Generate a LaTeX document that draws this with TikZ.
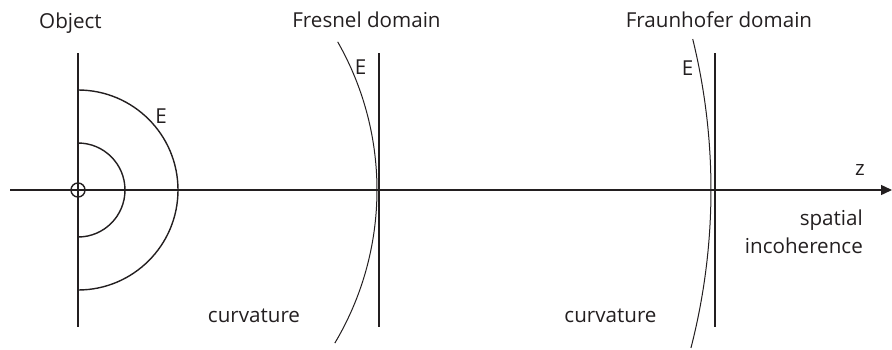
\documentclass[tikz,border=0pt]{standalone}
\usepackage{fontspec}
\setmainfont{Open Sans}
\usetikzlibrary{arrows.meta}
\definecolor{ink}{HTML}{231F20}
\begin{document}
\begin{tikzpicture}[x=1pt,y=-1pt,
  lbl/.style={inner sep=0pt, anchor=base, text=ink, font=\fontsize{20.6}{25}\selectfont},
  lblr/.style={lbl, anchor=base east},
  main/.style={draw=ink, line width=1.4pt},
  wave/.style={draw=ink, line width=1pt}]
\useasboundingbox (0,0) rectangle (892,349);
% coordinates
\coordinate (axL) at (10,190);
\coordinate (axR) at (892,190);
\coordinate (objT) at (78,53);
\coordinate (objB) at (78,327);
\coordinate (freT) at (379,53);
\coordinate (freB) at (379,327);
\coordinate (frhT) at (715,53);
\coordinate (frhB) at (715,327);
\coordinate (outT) at (78,90);
\coordinate (inT) at (78,143);
\coordinate (freA) at ([shift={(78,190)}]-29.7:299);
\coordinate (frhA) at ([shift={(78,190)}]-13.8:633);
% axis
\draw[main, -{Triangle[length=11pt,width=10pt]}] (axL) -- (axR);
% planes
\draw[main] (objT) -- (objB);
\draw[main] (freT) -- (freB);
\draw[main] (frhT) -- (frhB);
% origin
\node[draw=ink, line width=1.4pt, circle, minimum size=14pt, inner sep=0pt] (origin) at (78,190) {};
% wavefronts
\draw[main] (outT) arc[start angle=-90, end angle=90, radius=100];
\draw[main] (inT) arc[start angle=-90, end angle=90, radius=47];
\draw[wave] (freA) arc[start angle=-29.7, end angle=30.8, radius=299];
\draw[wave] (frhA) arc[start angle=-13.8, end angle=14.45, radius=633];
% labels
\node[lbl] (tObj) at (70.5,28) {Object};
\node[lbl] (tFre) at (366.5,27) {Fresnel domain};
\node[lbl] (tFrh) at (719,27) {Fraunhofer domain};
\node[lbl] (e1) at (161,123) {E};
\node[lbl] (e2) at (360.5,74) {E};
\node[lbl] (e3) at (687.5,75) {E};
\node[lbl] (tz) at (860,175) {z};
\node[lblr] (tsp) at (863,225) {spatial};
\node[lblr] (tinc) at (863,253) {incoherence};
\node[lbl] (tc1) at (254,322) {curvature};
\node[lbl] (tc2) at (610.5,322) {curvature};
\end{tikzpicture}
\end{document}
